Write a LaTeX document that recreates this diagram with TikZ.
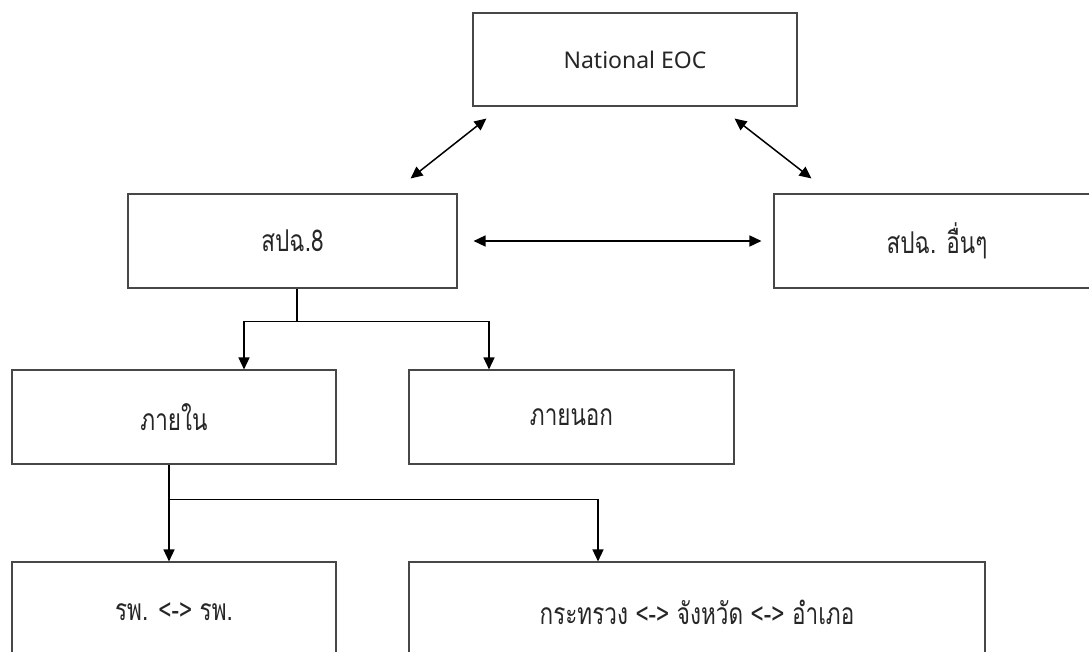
\documentclass[tikz,border=0pt]{standalone}
\usepackage{fontspec}
\setmainfont{Noto Sans}
\newfontfamily\thaifont[Script=Thai,FakeStretch=0.75]{Loma}
\usetikzlibrary{arrows.meta,calc}

\tikzset{
  box/.style={draw=black!72, line width=1.1pt, rectangle, inner sep=0pt,
              fill=white, text=black!85},
  thai/.style={font=\thaifont\fontsize{30}{35}\selectfont},
  latin/.style={font=\fontsize{23}{27}\selectfont},
  link/.style={line width=1.5pt, black},
  oneway/.style={link, -{Triangle[length=12pt,width=11pt]}},
  twoway/.style={link, {Triangle[length=12pt,width=11pt]}-{Triangle[length=12pt,width=11pt]}}
}

\begin{document}
\begin{tikzpicture}[x=1pt,y=-1pt]
  \useasboundingbox (0,0) rectangle (1089,652);

  % top level
  \node[box, latin, minimum width=324pt, minimum height=93pt] (eoc) at (635,59.5) {National EOC};

  % regional level
  \node[box, thai, minimum width=329pt, minimum height=94pt] (s8) at (292.5,241) {สปฉ.8};
  \node[box, thai, minimum width=326pt, minimum height=94pt] (other) at (937,241) {สปฉ. อื่นๆ};

  % second level
  \node[box, thai, minimum width=324pt, minimum height=94pt] (inner) at (174,417) {ภายใน};
  \node[box, thai, minimum width=325pt, minimum height=94pt] (outer) at (571.5,417) {ภายนอก};

  % third level
  \node[box, thai, minimum width=324pt, minimum height=100pt] (hosp) at (174,612) {รพ. <-> รพ.};
  \node[box, thai, minimum width=576pt, minimum height=100pt] (gov) at (697,612) {กระทรวง <-> จังหวัด <-> อำเภอ};

  % exchanges between national and regional centres
  \draw[twoway] ($(eoc.south west)+(14,12)$) -- ($(s8.north east)+(-47,-15)$);
  \draw[twoway] ($(eoc.south east)+(-63,12)$) -- ($(other.north west)+(38,-15)$);
  \draw[twoway] ($(s8.east)+(16,0)$) -- ($(other.west)+(-12,0)$);

  % branch from the regional centre
  \coordinate (s8out) at ($(s8.south)+(4.5,0)$);
  \coordinate (s8bar) at ($(s8out)+(0,33)$);
  \draw[link] (s8out) -- (s8bar);
  \draw[oneway] (s8bar) -| ($(inner.north)+(70,0)$);
  \draw[oneway] (s8bar) -| ($(outer.north)+(-82.5,0)$);

  % branch from the internal group
  \coordinate (inout) at ($(inner.south)+(-5,0)$);
  \coordinate (inbar) at ($(inout)+(0,35)$);
  \draw[oneway] (inout) -- (inout |- hosp.north);
  \draw[oneway] (inbar) -| ($(gov.north)+(-99,0)$);
\end{tikzpicture}
\end{document}
